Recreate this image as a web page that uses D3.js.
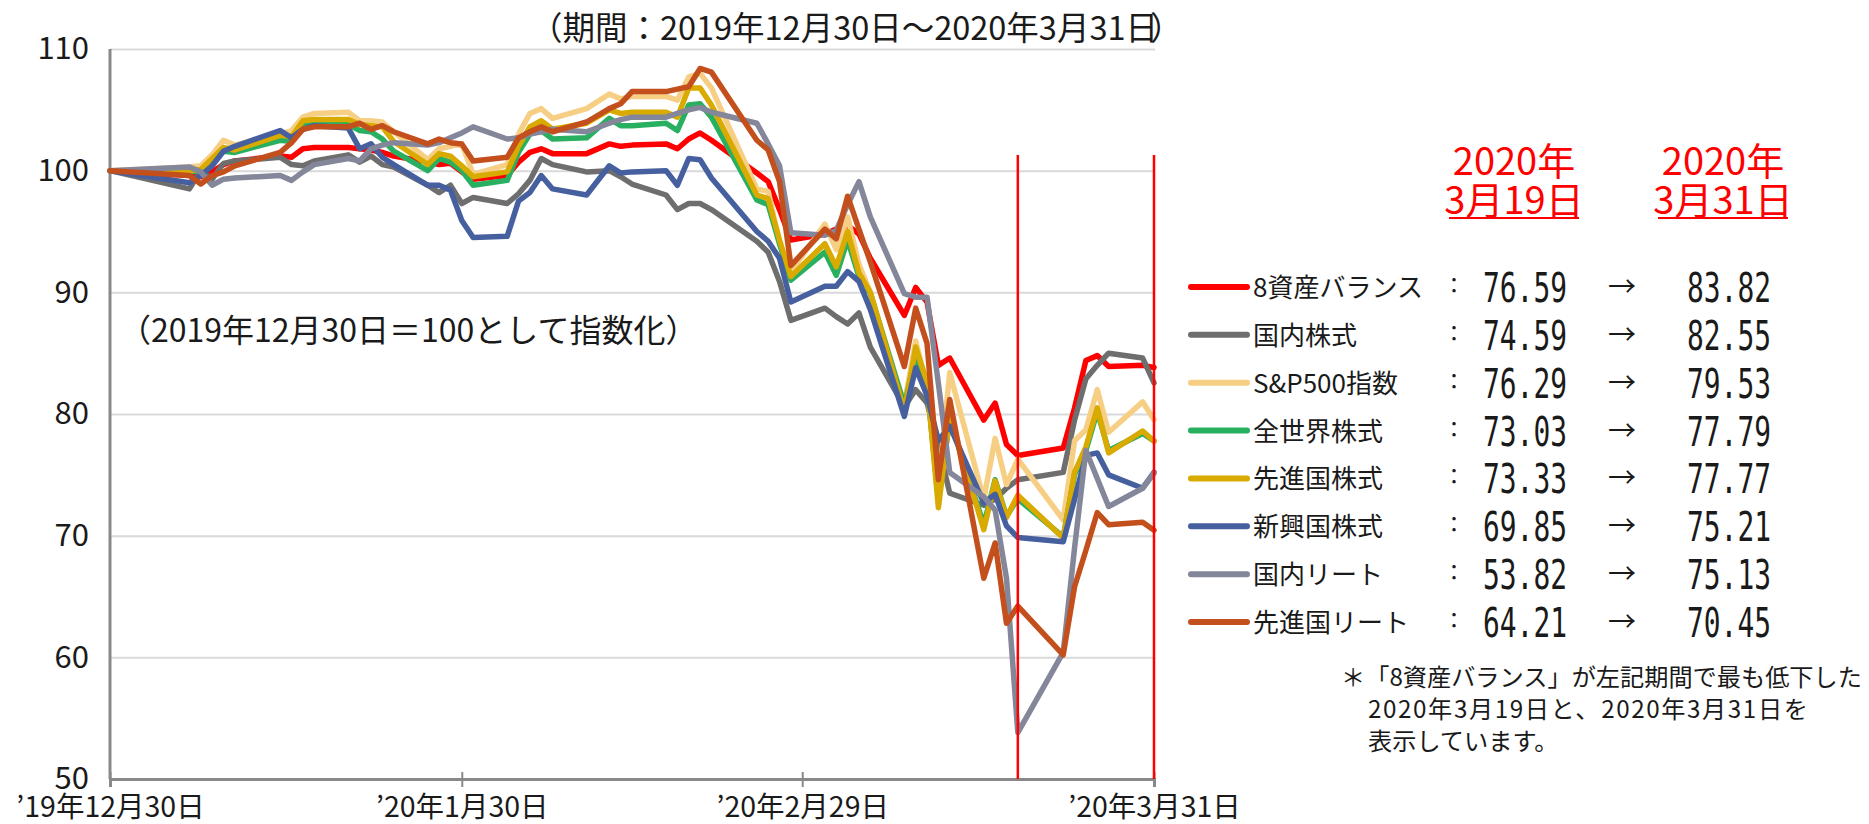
<!DOCTYPE html>
<html>
<head>
<meta charset="utf-8">
<script src="https://cdn.jsdelivr.net/npm/d3@7"></script>
<style>
  body { margin: 0; background: #fff; }
  text { font-family: "Noto Sans CJK JP", "Noto Sans", sans-serif; fill: #1a1a1a; }
</style>
</head>
<body>
<div class="chart"></div>
<script>
// trading days (Tokyo) from 2019-12-30 to 2020-03-31
const dates = ['2019-12-30','2020-01-06','2020-01-07','2020-01-08','2020-01-09','2020-01-10','2020-01-14','2020-01-15','2020-01-16','2020-01-17',
  '2020-01-20','2020-01-21','2020-01-22','2020-01-23','2020-01-24','2020-01-27','2020-01-28','2020-01-29','2020-01-30','2020-01-31',
  '2020-02-03','2020-02-04','2020-02-05','2020-02-06','2020-02-07','2020-02-10','2020-02-12','2020-02-13','2020-02-14','2020-02-17',
  '2020-02-18','2020-02-19','2020-02-20','2020-02-21','2020-02-25','2020-02-26','2020-02-27','2020-02-28','2020-03-02','2020-03-03',
  '2020-03-04','2020-03-05','2020-03-06','2020-03-09','2020-03-10','2020-03-11','2020-03-12','2020-03-13','2020-03-16','2020-03-17',
  '2020-03-18','2020-03-19','2020-03-23','2020-03-24','2020-03-25','2020-03-26','2020-03-27','2020-03-30','2020-03-31'];

const balance8 = [100, 99.6, 99.5, 99.9, 100.5, 100.8, 101.2, 101.1, 101.8, 101.9,
  101.9, 101.8, 101.7, 101.5, 101.2, 100.7, 100.5, 100.6, 99.9, 99.3,
  99.6, 100.7, 101.5, 101.8, 101.4, 101.4, 102.2, 102.0, 102.1, 102.2,
  101.8, 102.6, 103.1, 102.5, 99.8, 99.1, 96.8, 94.3, 94.8, 95.2,
  95.5, 94.8, 92.8, 88.1, 90.4, 89.2, 84.0, 84.6, 79.5, 80.9,
  77.5, 76.59, 77.2, 80.5, 84.4, 84.8, 83.9, 84.0, 83.82];
const japanStock = [100, 98.5, 100.0, 99.3, 100.6, 100.8, 101.1, 100.5, 100.4, 100.8,
  101.3, 100.7, 101.2, 100.5, 100.3, 98.8, 98.2, 98.8, 97.3, 97.8,
  97.3, 98.1, 99.2, 101.0, 100.5, 99.9, 100.0, 99.5, 98.9, 98.0,
  96.8, 97.3, 97.3, 96.8, 94.2, 93.3, 90.9, 87.7, 88.7, 88.0,
  87.4, 88.3, 85.5, 80.6, 82.0, 80.9, 77.4, 73.5, 72.5, 73.0,
  73.9, 74.59, 75.2, 79.5, 82.9, 84.0, 85.0, 84.6, 82.55];
const sp500 = [100, 100.3, 100.4, 101.3, 102.5, 102.1, 103.0, 103.3, 104.4, 104.7,
  104.8, 104.1, 104.1, 104.0, 103.2, 100.9, 101.8, 102.0, 102.2, 99.7,
  100.5, 103.0, 104.7, 105.1, 104.3, 105.1, 106.3, 105.9, 106.1, 106.1,
  105.8, 107.7, 108.0, 106.8, 98.5, 98.3, 94.0, 91.7, 95.6, 93.5,
  96.2, 92.3, 90.0, 80.8, 86.0, 82.2, 74.0, 83.4, 73.0, 78.0,
  74.2, 76.29, 71.3, 77.8, 78.7, 82.0, 78.5, 81.0, 79.53];
const worldStock = [100, 99.9, 100.0, 100.9, 101.6, 101.5, 102.5, 102.4, 103.7, 104.0,
  103.8, 103.3, 103.2, 102.6, 101.6, 100.0, 101.0, 100.7, 100.0, 98.8,
  99.2, 101.5, 103.0, 103.3, 102.6, 102.7, 104.3, 103.7, 103.7, 103.9,
  103.3, 105.4, 105.5, 104.4, 97.6, 97.2, 94.0, 91.0, 93.3, 91.4,
  94.3, 91.3, 89.9, 80.7, 84.8, 82.3, 73.0, 79.5, 70.9, 74.6,
  71.6, 73.03, 69.9, 75.0, 77.0, 80.2, 77.0, 78.4, 77.79];
const devStock = [100, 100.0, 100.1, 101.0, 101.9, 101.7, 102.9, 102.8, 104.1, 104.2,
  104.2, 103.8, 103.7, 103.6, 102.4, 100.5, 101.4, 101.2, 100.4, 99.5,
  99.9, 102.0, 103.6, 104.1, 103.4, 103.9, 105.0, 104.7, 104.8, 104.8,
  104.4, 106.8, 106.8, 105.4, 98.0, 97.7, 94.3, 91.3, 94.0, 92.1,
  95.0, 91.6, 90.0, 80.2, 85.5, 82.6, 72.3, 79.8, 70.5, 74.5,
  71.5, 73.33, 69.8, 75.2, 77.3, 80.5, 76.8, 78.6, 77.77];
const emStock = [100, 99.0, 99.6, 100.4, 101.6, 102.0, 103.3, 102.7, 103.4, 103.7,
  103.5, 101.8, 102.2, 101.1, 100.5, 98.8, 98.8, 98.4, 95.9, 94.5,
  94.6, 97.5, 98.2, 99.6, 98.5, 98.0, 100.4, 99.8, 99.9, 100.0,
  98.8, 101.0, 100.9, 99.4, 95.0, 94.2, 92.8, 89.2, 90.5, 90.5,
  91.7, 90.9, 88.6, 79.8, 83.8, 81.5, 77.8, 79.0, 72.7, 73.4,
  70.8, 69.85, 69.5, 73.0, 76.6, 76.8, 75.0, 73.9, 75.21];
const japanReit = [100, 100.3, 99.9, 98.8, 99.3, 99.4, 99.6, 99.2, 99.9, 100.5,
  101.0, 100.8, 101.8, 102.1, 102.3, 102.1, 102.3, 102.7, 103.1, 103.6,
  102.6, 102.7, 103.0, 103.2, 103.4, 103.2, 103.9, 104.2, 104.4, 104.4,
  104.7, 105.0, 105.2, 104.8, 103.9, 102.2, 100.4, 94.9, 94.7, 95.1,
  97.2, 99.1, 96.2, 89.9, 89.6, 89.6, 82.5, 75.2, 73.2, 72.1,
  66.5, 53.82, 60.4, 69.0, 77.0, 74.7, 72.4, 73.9, 75.13];
const devReit = [100, 99.6, 98.9, 99.6, 99.9, 100.4, 101.5, 102.3, 103.4, 103.6,
  103.6, 103.9, 103.4, 103.7, 103.2, 102.2, 102.6, 102.3, 102.2, 100.8,
  101.1, 102.7, 103.2, 103.6, 103.2, 104.0, 105.1, 105.5, 106.5, 106.5,
  106.7, 106.9, 108.4, 108.1, 102.5, 101.7, 99.1, 92.2, 95.2, 94.4,
  97.9, 95.2, 92.5, 83.9, 88.7, 85.8, 74.6, 81.2, 66.5, 69.4,
  62.8, 64.21, 60.2, 65.8, 68.8, 71.9, 70.9, 71.1, 70.45];

const seriesNames = ['8資産バランス','国内株式','S&P500指数','全世界株式','先進国株式','新興国株式','国内リート','先進国リート'];
const seriesColors = ['#ff0000','#6e6e6e','#f6cf84','#28af60','#d9aa00','#465f9f','#84869a','#c34f1d'];
const valuesMar19 = ['76.59','74.59','76.29','73.03','73.33','69.85','53.82','64.21'];
const valuesMar31 = ['83.82','82.55','79.53','77.79','77.77','75.21','75.13','70.45'];

const yTicks = [50, 60, 70, 80, 90, 100, 110];
const xTickDates = ['2019-12-30','2020-01-30','2020-02-29','2020-03-31'];
const xTickLabels = ['’19年12月30日','’20年1月30日','’20年2月29日','’20年3月31日'];
const markDates = ['2020-03-19','2020-03-31'];

const allSeries = [balance8, japanStock, sp500, worldStock, devStock, emStock, japanReit, devReit];

const width = 1869;
const height = 824;
const parse = d3.timeParse('%Y-%m-%d');

const svg = d3.select('.chart')
    .append('svg')
    .attr('width', width)
    .attr('height', height);

svg.append('rect').attr('width', width).attr('height', height).attr('fill', '#fff');

const x = d3.scaleTime()
    .domain([parse('2019-12-30'), parse('2020-03-31')])
    .range([110, 1154]);
const y = d3.scaleLinear()
    .domain([50, 110])
    .range([779, 49]);

// gridlines
svg.append('g')
    .attr('transform', 'translate(110,0)')
    .call(d3.axisLeft(y).tickValues(yTicks.slice(1)).tickSize(-1045).tickFormat(''))
    .call(g => g.select('.domain').remove())
    .selectAll('line')
    .attr('stroke', '#d9d9d9')
    .attr('stroke-width', 2);

// y labels
svg.append('g')
    .attr('transform', 'translate(110,0)')
    .call(d3.axisLeft(y).tickValues(yTicks).tickSize(0).tickPadding(21))
    .call(g => g.select('.domain').remove())
    .selectAll('text')
    .attr('font-size', 31)
    .attr('font-family', '"Noto Sans CJK JP", sans-serif')
    .attr('fill', '#1a1a1a');

// y axis line
svg.append('line')
    .attr('x1', 110).attr('x2', 110)
    .attr('y1', y(110)).attr('y2', y(50))
    .attr('stroke', '#898989').attr('stroke-width', 3);

// x axis
const xAxis = svg.append('g')
    .attr('transform', `translate(0,${y(50)})`)
    .call(d3.axisBottom(x)
        .tickValues(xTickDates.map(parse))
        .tickFormat((d, i) => xTickLabels[i])
        .tickSize(8));
xAxis.select('.domain').attr('stroke', '#898989').attr('stroke-width', 3);
xAxis.selectAll('.tick line')
    .attr('y1', -7).attr('y2', 8)
    .attr('stroke', '#898989').attr('stroke-width', 2);
xAxis.selectAll('text')
    .attr('font-size', 28.5)
    .attr('font-family', '"Noto Sans CJK JP", sans-serif')
    .attr('fill', '#1a1a1a')
    .attr('y', 38)
    .attr('dy', 0);

// series lines
const line = d3.line()
    .x((d, i) => x(parse(dates[i])))
    .y(d => y(d));

svg.selectAll('path.series')
    .data(allSeries)
    .enter()
    .append('path')
    .attr('class', 'series')
    .attr('d', d => line(d))
    .attr('fill', 'none')
    .attr('stroke', (d, i) => seriesColors[i])
    .attr('stroke-width', 5.5)
    .attr('stroke-linejoin', 'round')
    .attr('stroke-linecap', 'round');

// red markers for 3/19 and 3/31
svg.selectAll('line.mark')
    .data(markDates)
    .enter()
    .append('line')
    .attr('class', 'mark')
    .attr('x1', d => x(parse(d)))
    .attr('x2', d => x(parse(d)))
    .attr('y1', 155)
    .attr('y2', y(50))
    .attr('stroke', '#ff0000')
    .attr('stroke-width', 2.5);

// title (last bracket is cut off in the original)
svg.append('clipPath').attr('id', 'titleclip')
    .append('rect').attr('x', 0).attr('y', 0).attr('width', 1163).attr('height', 60);
svg.append('text')
    .attr('x', 1158)
    .attr('y', 40)
    .attr('text-anchor', 'end')
    .attr('font-size', 32.5)
    .text('（期間：2019年12月30日～2020年3月31日');
svg.append('text')
    .attr('clip-path', 'url(#titleclip)')
    .attr('x', 1150)
    .attr('y', 40)
    .attr('font-size', 32.5)
    .text('）');

svg.append('text')
    .attr('x', 119)
    .attr('y', 342)
    .attr('font-size', 32)
    .text('（2019年12月30日＝100として指数化）');

// column headers
const headX = [1514, 1723];
const headDay = ['3月19日', '3月31日'];
headX.forEach((hx, i) => {
    svg.append('text').attr('x', hx).attr('y', 175)
        .attr('text-anchor', 'middle').attr('font-size', 38)
        .style('fill', '#ff0000').text('2020年');
    svg.append('text').attr('x', hx).attr('y', 214)
        .attr('text-anchor', 'middle').attr('font-size', 38)
        .style('fill', '#ff0000').text(headDay[i]);
    svg.append('line')
        .attr('x1', hx - 65).attr('x2', hx + 65)
        .attr('y1', 218).attr('y2', 218)
        .attr('stroke', '#ff0000').attr('stroke-width', 2);
});

// legend + values
const rowY = d3.scaleLinear().domain([0, 7]).range([287, 622]);
const legend = svg.selectAll('g.legend')
    .data(seriesNames)
    .enter()
    .append('g')
    .attr('class', 'legend')
    .attr('transform', (d, i) => `translate(0,${rowY(i)})`);

legend.append('line')
    .attr('x1', 1191).attr('x2', 1247)
    .attr('stroke', (d, i) => seriesColors[i])
    .attr('stroke-width', 6)
    .attr('stroke-linecap', 'round');
legend.append('text')
    .attr('x', 1253).attr('y', 10)
    .attr('font-size', 26)
    .text(d => d);
legend.append('text')
    .attr('x', 1454).attr('y', 6)
    .attr('text-anchor', 'middle')
    .attr('font-size', 22)
    .text('：');
legend.append('text')
    .attr('x', 1483).attr('y', 15)
    .attr('font-size', 40)
    .attr('textLength', 84)
    .attr('lengthAdjust', 'spacingAndGlyphs')
    .style('font-family', '"DejaVu Sans Mono", monospace')
    .text((d, i) => valuesMar19[i]);
legend.append('text')
    .attr('x', 1622).attr('y', 10)
    .attr('text-anchor', 'middle')
    .attr('font-size', 28)
    .text('→');
legend.append('text')
    .attr('x', 1687).attr('y', 15)
    .attr('font-size', 40)
    .attr('textLength', 84)
    .attr('lengthAdjust', 'spacingAndGlyphs')
    .style('font-family', '"DejaVu Sans Mono", monospace')
    .text((d, i) => valuesMar31[i]);

// footnote
const noteLines = ['＊「8資産バランス」が左記期間で最も低下した', '2020年3月19日と、2020年3月31日を', '表示しています。'];
svg.selectAll('text.note')
    .data(noteLines)
    .enter()
    .append('text')
    .attr('class', 'note')
    .attr('x', (d, i) => i === 0 ? 1341 : 1368)
    .attr('y', (d, i) => 686 + i * 32)
    .attr('font-size', 24.2)
    .style('letter-spacing', (d, i) => i === 1 ? '1.6px' : null)
    .text(d => d);
</script>
</body>
</html>
